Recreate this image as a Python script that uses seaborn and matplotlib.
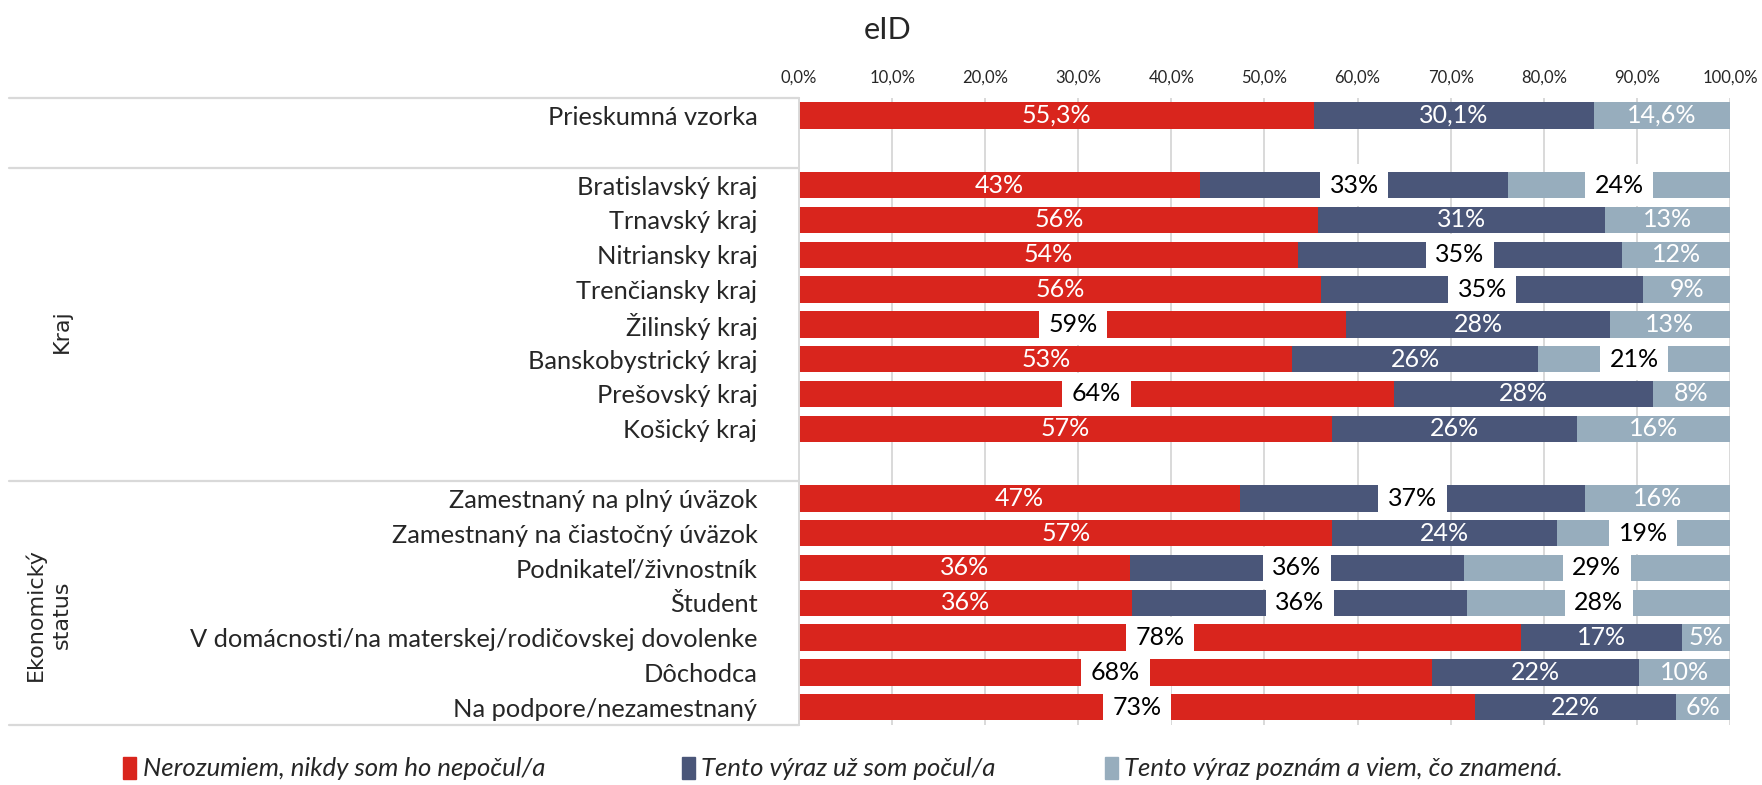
import numpy as np
import pandas as pd
import matplotlib
matplotlib.use("Agg")
import matplotlib.pyplot as plt
import matplotlib.patches as mpatches
import seaborn as sns

# DATA

categories = ["Prieskumná vzorka", " ",
              "Bratislavský kraj", "Trnavský kraj", "Nitriansky kraj",
              "Trenčiansky kraj", "Žilinský kraj", "Banskobystrický kraj",
              "Prešovský kraj", "Košický kraj", "  ",
              "Zamestnaný na plný úväzok", "Zamestnaný na čiastočný úväzok",
              "Podnikateľ/živnostník", "Študent",
              "V domácnosti/na materskej/rodičovskej dovolenke",
              "Dôchodca", "Na podpore/nezamestnaný"]

nan = np.nan
nerozumiem = [55.3, nan, 43.1, 55.8, 53.6, 56.1, 58.8, 53.0, 63.9, 57.2, nan,
              47.4, 57.3, 35.6, 35.8, 77.6, 68.0, 72.6]
pocul = [30.1, nan, 33.1, 30.8, 34.8, 34.6, 28.3, 26.4, 27.8, 26.4, nan,
         37.0, 24.1, 35.8, 36.0, 17.3, 22.2, 21.6]
poznam = [14.6, nan, 23.8, 13.4, 11.7, 9.3, 12.9, 20.6, 8.3, 16.4, nan,
          15.6, 18.6, 28.6, 28.2, 5.1, 9.8, 5.9]

series_names = ["Nerozumiem, nikdy som ho nepočul/a",
                "Tento výraz už som počul/a",
                "Tento výraz poznám a viem, čo znamená."]
colors = ["#D9251D", "#4A5679", "#97ADBD"]

# labels drawn with a white box (black text), as in the original
boxed = [("Bratislavský kraj", 1), ("Bratislavský kraj", 2),
         ("Nitriansky kraj", 1), ("Trenčiansky kraj", 1),
         ("Žilinský kraj", 0), ("Banskobystrický kraj", 2),
         ("Prešovský kraj", 0), ("Zamestnaný na plný úväzok", 1),
         ("Zamestnaný na čiastočný úväzok", 2),
         ("Podnikateľ/živnostník", 1), ("Podnikateľ/živnostník", 2),
         ("Študent", 1), ("Študent", 2),
         ("V domácnosti/na materskej/rodičovskej dovolenke", 0),
         ("Dôchodca", 0), ("Na podpore/nezamestnaný", 0)]

groups = [("Kraj", -0.792, 6.2), ("Ekonomický\nstatus", -0.807, 14.35)]
separators = [-0.5, 1.5, 10.5, 17.5]

df = pd.DataFrame({"kategoria": categories,
                   "s0": nerozumiem, "s1": pocul, "s2": poznam})
df["c0"] = df["s0"]
df["c1"] = df["s0"] + df["s1"]
df["c2"] = df["c1"] + df["s2"]

# PLOT

sns.set_style("white")
plt.rcParams["font.family"] = ["Lato", "DejaVu Sans"]

fig = plt.figure(figsize=(17.62, 7.85), dpi=100)
ax = fig.add_axes([0.4535, 0.077, 0.5283, 0.798])

for i in [2, 1, 0]:
    sns.barplot(data=df, x=f"c{i}", y="kategoria", order=categories,
                color=colors[i], width=0.76, errorbar=None, saturation=1,
                linewidth=0, orient="h", ax=ax)

ax.set_xlim(0, 100)
ax.set_ylim(17.5, -0.5)
ax.set_xlabel("")
ax.set_ylabel("")

ax.xaxis.tick_top()
ax.set_xticks(np.arange(0, 101, 10))
ax.set_xticklabels([f"{t:.1f}%".replace(".", ",") for t in np.arange(0, 101, 10)],
                   fontsize=12)
ax.tick_params(axis="x", length=0, pad=9)
ax.tick_params(axis="y", length=0, pad=30, labelsize=18.3)

ax.grid(axis="x", color="#D9D9D9", linewidth=1.4)
ax.set_axisbelow(True)
for side in ["top", "right", "bottom"]:
    ax.spines[side].set_visible(False)
ax.spines["left"].set_color("#D9D9D9")
ax.spines["left"].set_linewidth(1.4)

# data labels
for r, cat in enumerate(categories):
    if np.isnan(df.loc[r, "s0"]):
        continue
    for i in range(3):
        v = df.loc[r, f"s{i}"]
        x = df.loc[r, f"c{i}"] - v / 2
        if r == 0:
            txt = f"{v:.1f}%".replace(".", ",")
        else:
            txt = f"{v:.0f}%"
        if (cat, i) in boxed:
            ax.text(x, r, txt, ha="center", va="center", fontsize=18,
                    color="black",
                    bbox=dict(boxstyle="square,pad=0.38", fc="white", ec="none"))
        else:
            ax.text(x, r, txt, ha="center", va="center", fontsize=18,
                    color="white")

# group separators and group labels on the left
ytrans = ax.get_yaxis_transform()
for y in separators:
    ax.plot([-0.849, 0], [y, y], transform=ytrans, color="#D9D9D9",
            linewidth=1.6, clip_on=False)

for name, gx, gy in groups:
    ax.text(gx, gy, name, transform=ytrans, rotation=90, ha="center",
            va="center", fontsize=16, family="DejaVu Sans", linespacing=1.35)

fig.text(0.504, 0.962, "eID", ha="center", va="center", fontsize=22)

# legend
handles = [mpatches.Patch(color=c) for c in colors]
legend_x = [0.070, 0.387, 0.627]
for h, name, lx in zip(handles, series_names, legend_x):
    fig.legend([h], [name], loc="center left", bbox_to_anchor=(lx, 0.021),
               frameon=False, handlelength=0.5, handleheight=0.95,
               handletextpad=0.25, borderpad=0, borderaxespad=0,
               prop={"style": "italic", "size": 18.5})

fig.savefig("out.png", dpi=100)
